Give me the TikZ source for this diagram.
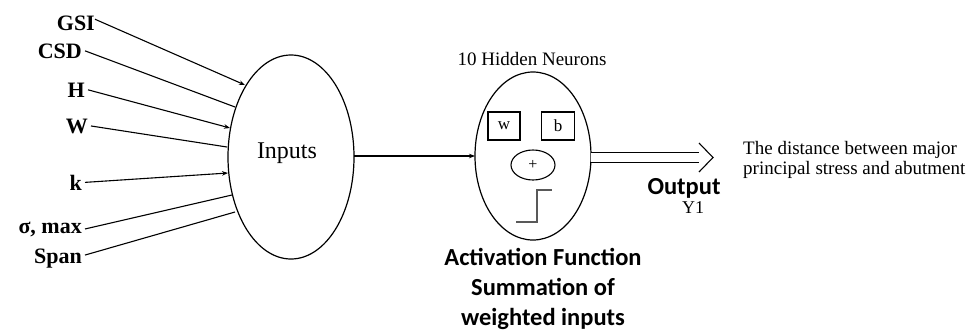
\documentclass[tikz,border=0pt]{standalone}
\usepackage{fontspec}
\setmainfont{Liberation Serif}
\newfontfamily\carlitofont{Carlito}
\usetikzlibrary{arrows.meta,calc}
\begin{document}
\begin{tikzpicture}[x=1pt,y=-1pt,
  lab/.style={font=\fontsize{22}{24}\selectfont\bfseries, anchor=base east, inner ysep=0pt, inner xsep=3pt},
  inl/.style={-{Stealth[length=6pt,width=4.5pt]}, line width=1.1pt},
  inn/.style={line width=1.1pt},
  sans/.style={font=\carlitofont\bfseries\fontsize{24.5}{30}\selectfont, align=center, inner sep=0pt},
  ser/.style={font=\fontsize{19}{20}\selectfont, inner sep=0pt}
]
\useasboundingbox (0,0) rectangle (979,333);
% input ellipse
\draw[line width=1.2pt] (291,157) ellipse [x radius=63, y radius=102];
\node[font=\fontsize{24}{26}\selectfont, anchor=base, inner sep=0pt] (inputs) at (287,158) {Inputs};
% labels
\node[lab] (gsi) at (98,30) {GSI};
\node[lab] (csd) at (85,58) {CSD};
\node[lab] (h) at (88,97) {H};
\node[lab] (w) at (91,133) {W};
\node[lab] (k) at (85,190) {k};
\node[lab] (sig) at (85,233) {σ, max};
\node[lab] (span) at (85,263) {Span};
\coordinate (e1) at (245,85);
\coordinate (e2) at (235,107);
\coordinate (e3) at (230,128);
\coordinate (e4) at (227,147);
\coordinate (e5) at (228,173);
\coordinate (e6) at (232,195);
\coordinate (e7) at (235,212);
\draw[inl] ($(gsi.north east)+(-3,4)$) -- (e1);
\draw[inn] (csd.east) -- (e2);
\draw[inl] (h.east) -- (e3);
\draw[inn] (w.east) -- (e4);
\draw[inl] (k.east) -- (e5);
\draw[inn] (sig.east) -- (e6);
\draw[inn] ($(span.east)+(0,-3)$) -- (e7);
% hidden ellipse
\draw[line width=1.2pt] (533,156) ellipse [x radius=58, y radius=84];
\coordinate (hl) at (475,156);
\coordinate (hr) at (591,157.5);
\coordinate (inR) at (354,156);
\draw[inl] (inR) -- (hl);
\node[ser, anchor=base] (hid) at (532,65) {10 Hidden Neurons};
\node[draw, line width=1.1pt, minimum width=32pt, minimum height=28pt, inner sep=0pt, font=\fontsize{17}{18}\selectfont] (wb) at (504,126) {w};
\node[draw, line width=1.1pt, minimum width=33pt, minimum height=28pt, inner sep=0pt, font=\fontsize{17}{18}\selectfont] (bb) at (558,126) {b};
\draw[line width=1.1pt] (533,165) ellipse [x radius=22, y radius=15];
\node[font=\fontsize{16}{17}\selectfont] (plus) at (533,165) {+};
\draw[line width=1.6pt, black!65] (516,222) -- (537,222) -- (537,190) -- (552,190);
% output arrow
\coordinate (tip) at (713,157.5);
\coordinate (hb) at (699,157.5);
\draw[line width=1.1pt, double distance=9pt] (hr) -- (hb);
\draw[line width=1.1pt, line join=miter] ($(hb)+(0,-14.5)$) -- (tip) -- ($(hb)+(0,14.5)$);
\node[sans] (out) at (684,188) {Output};
\node[font=\fontsize{18}{19}\selectfont, inner sep=0pt, anchor=base] (y1) at (693,213) {Y1};
\node[font=\fontsize{19}{20}\selectfont, align=left, anchor=north west, inner sep=0pt] (desc) at (743,141) {The distance between major\\principal stress and abutment};
\node[sans, anchor=north] (act) at (543,248) {Activation Function\\Summation of\\weighted inputs};
\end{tikzpicture}
\end{document}
